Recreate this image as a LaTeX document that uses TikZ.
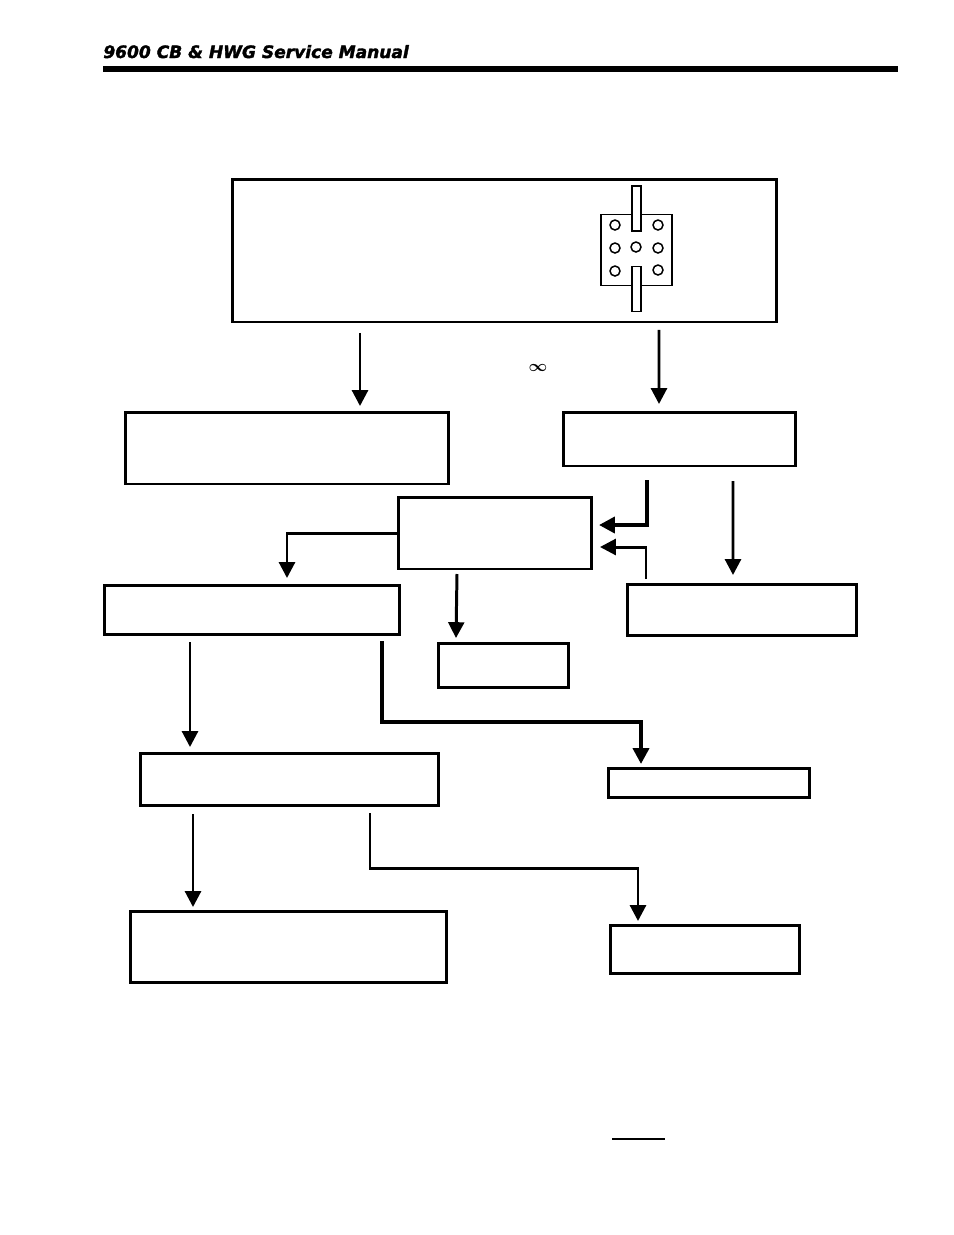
\documentclass[tikz,border=0pt]{standalone}
\usepackage{fontspec}
\setmainfont{DejaVu Sans}[BoldItalicFeatures={FakeBold=2}]
\usetikzlibrary{arrows.meta}
\usetikzlibrary{calc}
\tikzset{
    box/.style={draw, line width=1.7pt, inner sep=0pt, outer sep=0pt},
    arr/.style={line width=1.7pt, -{Triangle[length=9pt,width=9pt]}},
    thickarr/.style={arr, line width=2.2pt},
    pin/.style={draw, circle, line width=0.85pt, minimum size=0.2cm, inner sep=0pt, outer sep=0pt},
    jumper/.style={draw, fill=white, line width=1pt, minimum width=0.18cm, minimum height=0.9cm, inner sep=0pt, outer sep=0pt},
    bar/.style={fill=black, inner sep=0pt, outer sep=0pt}
}
\begin{document}
\begin{tikzpicture}[x=0.02cm,y=-0.02cm]
            \useasboundingbox (0,0) rectangle (954,1235);
            \node[anchor=base west, inner sep=0pt, font=\bfseries\itshape\fontsize{9.7}{11}\selectfont] (title) at (103,58) {9600 CB \& HWG Service Manual};
            \node[bar, minimum width=15.9cm, minimum height=0.12cm] (rule) at (500.5,69) {};

            \node[box, minimum width=10.9cm, minimum height=2.86cm] (top) at (504.5,250.5) {};
            \node[box, minimum width=6.48cm, minimum height=1.44cm] (L1) at (287,448) {};
            \node[box, minimum width=4.66cm, minimum height=1.08cm] (R1) at (679.5,439) {};
            \node[box, minimum width=3.88cm, minimum height=1.44cm] (M) at (495,533) {};
            \node[box, minimum width=5.92cm, minimum height=0.98cm] (L2) at (252,609.5) {};
            \node[box, minimum width=4.6cm, minimum height=1.02cm] (R2) at (742,609.5) {};
            \node[box, minimum width=2.62cm, minimum height=0.88cm] (M2) at (503.5,665) {};
            \node[box, minimum width=5.98cm, minimum height=1.04cm] (L3) at (289.5,779) {};
            \node[box, minimum width=4.04cm, minimum height=0.58cm] (R3) at (709,782.5) {};
            \node[box, minimum width=6.34cm, minimum height=1.42cm] (L4) at (288.5,946.5) {};
            \node[box, minimum width=3.8cm, minimum height=0.96cm] (R4) at (705,949) {};

            % header block with its pins
            \node[draw, line width=1pt, minimum size=1.42cm, inner sep=0pt, outer sep=0pt] (block) at (636.5,250) {};
            \foreach \name/\px/\py in {a/615/225, b/658/225, c/615/248, d/636/247, e/658/248, f/615/271, g/658/270}
                \node[pin] (\name) at (\px,\py) {};
            \node[jumper] (upper) at (636.5,208.5) {};
            \node[jumper] (lower) at (636.5,289) {};

            \node[inner sep=0pt, font=\boldmath\fontsize{9}{10}\selectfont] (inf) at (538,368) {\(\infty\)};
            \node[bar, minimum width=1.06cm, minimum height=0.035cm] (under) at (638.5,1139) {};

            \draw[arr] ($(top.south) + (-144.5,11)$) -- ($(L1.north) + (73,-6)$);
            \draw[arr] ($(top.south) + (154.5,8)$) -- ($(R1.north) + (-20.5,-8)$);
            \draw[thickarr] ($(R1.south) + (-32.5,14)$) |- ($(M.east) + (7,-8)$);
            \draw[arr] ($(R2.north) + (-96,-5)$) |- ($(M.east) + (8,14)$);
            \draw[arr] ($(R1.south) + (53.5,15)$) -- ($(R2.north) + (-9,-9)$);
            \draw[arr] (M.west) -| ($(L2.north) + (35,-7)$);
            \draw[arr] ($(M.south) + (-38,5)$) -- ($(M2.north) + (-47.5,-5)$);
            \draw[arr] ($(L2.south) + (-62,8)$) -- ($(L3.north) + (-99.5,-6)$);
            \draw[thickarr] ($(L2.south) + (130,7)$) -- ++(0,81) -| ($(R3.north) + (-68,-4)$);
            \draw[arr] ($(L3.south) + (-96.5,9)$) -- ($(L4.north) + (-95.5,-4)$);
            \draw[arr] ($(L3.south) + (80.5,8)$) -- ++(0,55) -| ($(R4.north) + (-67,-4)$);
        \end{tikzpicture}
\end{document}
